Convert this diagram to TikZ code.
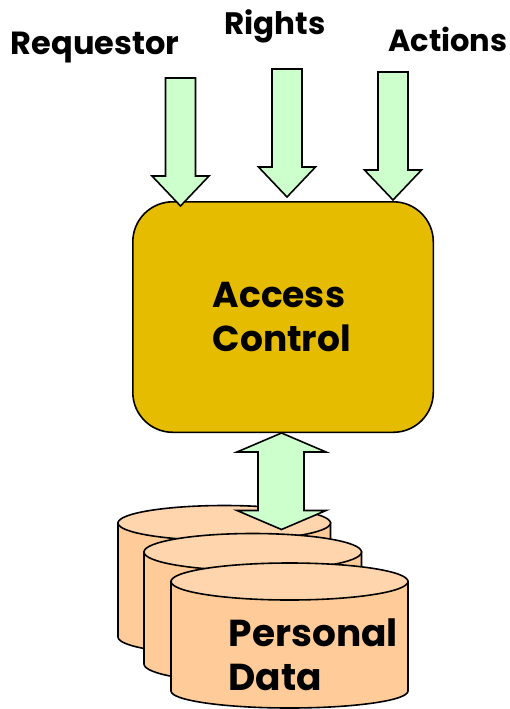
\documentclass[tikz,border=0pt]{standalone}
\usepackage{fontspec}
\setmainfont{Poppins}[BoldFont={Poppins Bold}]
\definecolor{arrowgreen}{HTML}{CCFFCC}
\definecolor{boxgold}{HTML}{E6BC00}
\definecolor{cylbody}{HTML}{FFCC99}
\definecolor{cyltop}{HTML}{FFD5AD}
\tikzset{
  arrowshape/.style={draw=black,line width=1.6pt,fill=arrowgreen,line join=miter},
  cylbodyshape/.style={draw=black,line width=1.6pt,fill=cylbody},
  cyltopshape/.style={draw=black,line width=1.6pt,fill=cyltop},
  labeltext/.style={inner sep=0pt,text=black},
  bigtext/.style={inner sep=0pt,align=left,text=black}
}
\newcommand{\downarrowshape}[1]{%
  \draw[arrowshape,shift={(#1)}] (-15,0) -- (15,0) -- (15,98) -- (28.5,98) -- (0,128) -- (-28.5,98) -- (-15,98) -- cycle;}
\newcommand{\cylshape}[6]{% left right ytop(center) ybottom(sideend) ry rybottom
  \draw[cylbodyshape] (#1,#3) -- (#1,#4) arc[start angle=180,end angle=0,x radius={(#2-#1)/2},y radius=#6] -- (#2,#3) -- cycle;
  \draw[cyltopshape] ({(#1+#2)/2},#3) ellipse[x radius={(#2-#1)/2},y radius=#5];}
\begin{document}
\begin{tikzpicture}[x=1pt,y=-1pt]
\useasboundingbox (0,0) rectangle (510,709);
\node[draw=black,line width=1.6pt,fill=boxgold,rounded corners=40pt,minimum width=300.5pt,minimum height=230.5pt,anchor=north west,inner sep=0pt] (ac) at (132,201) {};
\downarrowshape{180.5,78}
\downarrowshape{287,69}
\downarrowshape{393,72}
\cylshape{118}{330.5}{523}{637}{17.5}{17.5}
\draw[arrowshape] (281.5,433) -- (326,452) -- (304,452) -- (304,510.5) -- (326,510.5) -- (281.5,529.5) -- (237,510.5) -- (258,510.5) -- (258,452) -- (237,452) -- cycle;
\cylshape{144}{361.5}{552}{664}{18.5}{18.5}
\cylshape{171}{408}{581.5}{691}{18.5}{17}
\node[labeltext,anchor=base west,font=\bfseries\fontsize{32}{32}\selectfont] (req) at (10.5,55) {Requestor};
\node[labeltext,anchor=base west,font=\bfseries\fontsize{31}{31}\selectfont] (rig) at (224,35) {Rights};
\node[labeltext,anchor=base west,font=\bfseries\fontsize{30.5}{31}\selectfont] (act) at (388,51.5) {Actions};
\node[bigtext,anchor=base west,font=\bfseries\fontsize{36}{43.5}\selectfont] (actext) at (212.5,351) {Access\\Control};
\node[bigtext,anchor=base west,font=\bfseries\fontsize{37.5}{44}\selectfont] (pd) at (228.5,690.5) {Personal\\Data};
\end{tikzpicture}
\end{document}
